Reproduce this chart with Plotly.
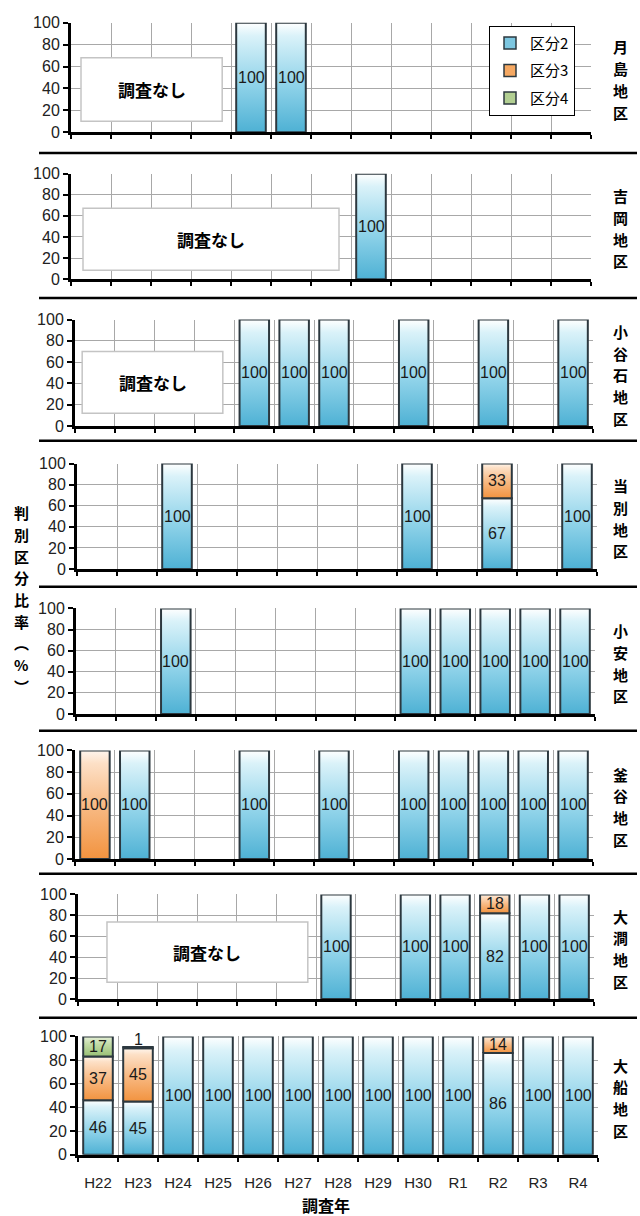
import plotly.graph_objects as go

# ---------------------------------------------------------------- data
years = ["H22", "H23", "H24", "H25", "H26", "H27", "H28", "H29", "H30",
         "R1", "R2", "R3", "R4"]
series_names = ["区分2", "区分3", "区分4"]
districts = ["月島地区", "吉岡地区", "小谷石地区", "当別地区",
             "小安地区", "釜谷地区", "大澗地区", "大船地区"]
y_title_chars = ["判", "別", "区", "分", "比", "率", "︵", "%", "︶"]

N = None
# 月島地区
tsukishima_k2 = [N, N, N, N, 100, 100, N, N, N, N, N, N, N]
tsukishima_k3 = [N, N, N, N, N, N, N, N, N, N, N, N, N]
tsukishima_k4 = [N, N, N, N, N, N, N, N, N, N, N, N, N]
# 吉岡地区
yoshioka_k2 = [N, N, N, N, N, N, N, 100, N, N, N, N, N]
yoshioka_k3 = [N, N, N, N, N, N, N, N, N, N, N, N, N]
yoshioka_k4 = [N, N, N, N, N, N, N, N, N, N, N, N, N]
# 小谷石地区
koyaishi_k2 = [N, N, N, N, 100, 100, 100, N, 100, N, 100, N, 100]
koyaishi_k3 = [N, N, N, N, N, N, N, N, N, N, N, N, N]
koyaishi_k4 = [N, N, N, N, N, N, N, N, N, N, N, N, N]
# 当別地区
tobetsu_k2 = [N, N, 100, N, N, N, N, N, 100, N, 67, N, 100]
tobetsu_k3 = [N, N, N, N, N, N, N, N, N, N, 33, N, N]
tobetsu_k4 = [N, N, N, N, N, N, N, N, N, N, N, N, N]
# 小安地区
koyasu_k2 = [N, N, 100, N, N, N, N, N, 100, 100, 100, 100, 100]
koyasu_k3 = [N, N, N, N, N, N, N, N, N, N, N, N, N]
koyasu_k4 = [N, N, N, N, N, N, N, N, N, N, N, N, N]
# 釜谷地区
kamaya_k2 = [N, 100, N, N, 100, N, 100, N, 100, 100, 100, 100, 100]
kamaya_k3 = [100, N, N, N, N, N, N, N, N, N, N, N, N]
kamaya_k4 = [N, N, N, N, N, N, N, N, N, N, N, N, N]
# 大澗地区
omagari_k2 = [N, N, N, N, N, N, 100, N, 100, 100, 82, 100, 100]
omagari_k3 = [N, N, N, N, N, N, N, N, N, N, 18, N, N]
omagari_k4 = [N, N, N, N, N, N, N, N, N, N, N, N, N]
# 大船地区
ofune_k2 = [46, 45, 100, 100, 100, 100, 100, 100, 100, 100, 86, 100, 100]
ofune_k3 = [37, 45, N, N, N, N, N, N, N, N, 14, N, N]
ofune_k4 = [17, 1, N, N, N, N, N, N, N, N, N, N, N]

district_series = [
    (tsukishima_k2, tsukishima_k3, tsukishima_k4),
    (yoshioka_k2, yoshioka_k3, yoshioka_k4),
    (koyaishi_k2, koyaishi_k3, koyaishi_k4),
    (tobetsu_k2, tobetsu_k3, tobetsu_k4),
    (koyasu_k2, koyasu_k3, koyasu_k4),
    (kamaya_k2, kamaya_k3, kamaya_k4),
    (omagari_k2, omagari_k3, omagari_k4),
    (ofune_k2, ofune_k3, ofune_k4),
]

# ---------------------------------------------------------------- style
W, H = 640, 1216
# plot area of each panel in pixels: left, right, top (=100), bottom (=0)
panel_px = [
    (71, 591, 15, 126),
    (71, 591, 168, 275),
    (75, 593, 316, 424),
    (77, 597, 462, 569),
    (76, 595, 609, 716),
    (75, 593, 753, 863),
    (78, 594, 899, 1005),
    (78, 598, 1043, 1163),
]
separator_px = [147, 294, 439, 587, 733, 878, 1024]
# "調査なし" boxes: panel index -> (x0, x1, y0, y1) in axis units
no_survey_boxes = {
    0: (-0.25, 3.28, 10, 68),
    1: (-0.2, 6.2, 8.4, 67.3),
    2: (-0.32, 3.21, 12, 70),
    6: (0.23, 5.29, 16, 73.6),
}

fill_scales = [
    [[0, "#4eb1d4"], [0.45, "#92d4ea"], [0.88, "#daf2f9"], [0.96, "#f3fbfd"], [1, "#ffffff"]],
    [[0, "#f2933f"], [0.5, "#f8bb86"], [0.88, "#fde0c6"], [1, "#fff6ee"]],
    [[0, "#98bf74"], [0.6, "#c2dba6"], [1, "#e6f0d8"]],
]
legend_colors = ["#7cc6e0", "#f5a862", "#b2cf92"]
edge_color = "#2c383f"
half_w = 0.37

num_font = "Liberation Sans Narrow, Arial Narrow, Liberation Sans, sans-serif"
jp_font = "Noto Sans CJK JP, sans-serif"
char_pitch = 22  # px between stacked characters of vertical labels
char_size = 15

fig = go.Figure()
annotations = []
shapes = []
layout_axes = {}


def vertical_text(chars, x_px, y_center_px, pitch, size):
    """Stack characters top to bottom, one annotation per character."""
    n = len(chars)
    y0 = y_center_px - pitch * (n - 1) / 2
    for j, ch in enumerate(chars):
        annotations.append(dict(
            x=x_px / W, y=1 - (y0 + j * pitch) / H, xref="paper", yref="paper",
            text="<b>" + ch + "</b>", showarrow=False,
            font=dict(family=jp_font, size=size, color="black"),
            xanchor="center", yanchor="middle", borderpad=0,
        ))


for k, (series, (l, r, t, b)) in enumerate(zip(district_series, panel_px)):
    sfx = "" if k == 0 else str(k + 1)
    xa, ya = "x" + sfx, "y" + sfx

    # stacked segments, each filled with its own vertical gradient
    for i, year in enumerate(years):
        base = 0
        for s, vals in enumerate(series):
            v = vals[i]
            if not v:
                continue
            top = base + v
            fig.add_trace(go.Scatter(
                x=[i - half_w, i + half_w, i + half_w, i - half_w, i - half_w],
                y=[base, base, top, top, base],
                mode="lines", fill="toself",
                fillgradient=dict(type="vertical", colorscale=fill_scales[s]),
                line=dict(color=edge_color, width=2),
                hoverinfo="skip", showlegend=False,
                xaxis=xa, yaxis=ya,
            ))
            label_y = (base + top) / 2 if v >= 5 else top + 6
            annotations.append(dict(
                x=i, y=label_y, xref=xa, yref=ya, text=str(v), showarrow=False,
                font=dict(family=num_font, size=16, color="#1a1a1a"),
            ))
            base = top

    show_labels = k == len(panel_px) - 1
    layout_axes["xaxis" + sfx] = dict(
        domain=[l / W, r / W], anchor=ya, range=[-0.5, 12.5],
        tickmode="array", tickvals=list(range(len(years))),
        ticktext=years if show_labels else [""] * len(years),
        ticks="", showgrid=False, zeroline=False,
        showline=True, linecolor="black", linewidth=3,
        tickfont=dict(family=num_font, size=15, color="#222"),
        ticklabelstandoff=12,
        minor=dict(tickvals=[j - 0.5 for j in range(len(years) + 1)],
                   ticks="outside", ticklen=4, tickwidth=2, tickcolor="black",
                   showgrid=True, gridcolor="#a8a8a8", gridwidth=1),
        fixedrange=True,
    )
    layout_axes["yaxis" + sfx] = dict(
        domain=[1 - b / H, 1 - t / H], anchor=xa, range=[0, 100],
        tickmode="array", tickvals=[0, 20, 40, 60, 80, 100],
        ticks="outside", ticklen=5, tickwidth=2, tickcolor="black",
        showgrid=True, gridcolor="#a8a8a8", gridwidth=1, zeroline=False,
        showline=True, linecolor="black", linewidth=3,
        tickfont=dict(family=num_font, size=16, color="#222"),
        fixedrange=True,
    )

    # district name, written vertically to the right of the panel
    vertical_text(list(districts[k]), 620, (t + b) / 2 + 2, char_pitch, char_size)

    if k in no_survey_boxes:
        x0, x1, y0, y1 = no_survey_boxes[k]
        shapes.append(dict(type="rect", xref=xa, yref=ya, x0=x0, x1=x1, y0=y0, y1=y1,
                           fillcolor="white", line=dict(color="#c4c4c4", width=1.5),
                           layer="above"))
        annotations.append(dict(
            x=(x0 + x1) / 2, y=(y0 + y1) / 2, xref=xa, yref=ya,
            text="<b>調査なし</b>", showarrow=False,
            font=dict(family=jp_font, size=17, color="black"),
        ))

# horizontal rules between panels
for py in separator_px:
    shapes.append(dict(type="line", xref="paper", yref="paper",
                       x0=39 / W, x1=637 / W, y0=1 - py / H, y1=1 - py / H,
                       line=dict(color="black", width=2.5)))

# legend entries
for s, name in enumerate(series_names):
    fig.add_trace(go.Bar(
        x=[None], y=[None], name=name, legendgroup=name,
        marker=dict(color=legend_colors[s], line=dict(color=edge_color, width=1.5)),
        xaxis="x", yaxis="y", hoverinfo="skip",
    ))

# y-axis title (vertical) and x-axis title
vertical_text(y_title_chars, 21, 600, char_pitch, char_size)
annotations.append(dict(
    x=326 / W, y=1 - 1214 / H, xref="paper", yref="paper",
    text="<b>調査年</b>", showarrow=False,
    font=dict(family=jp_font, size=16, color="black"),
    xanchor="center", yanchor="middle", borderpad=0,
))

fig.update_layout(
    width=W, height=H, margin=dict(l=0, r=0, t=0, b=0),
    paper_bgcolor="white", plot_bgcolor="white",
    showlegend=True, barmode="overlay",
    legend=dict(x=489 / W, y=1 - 18 / H, xanchor="left", yanchor="top",
                bgcolor="white", bordercolor="black", borderwidth=1,
                font=dict(family=jp_font, size=15, color="black"),
                tracegroupgap=5, itemwidth=30, traceorder="grouped"),
    annotations=annotations, shapes=shapes,
    **layout_axes,
)

fig.write_html("out.html")
